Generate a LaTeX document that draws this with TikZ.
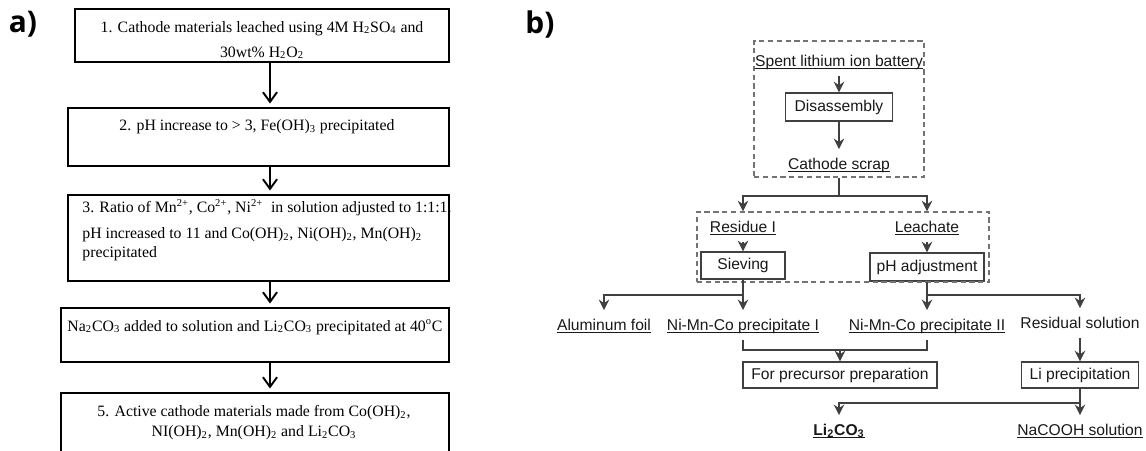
\documentclass[tikz,border=0pt]{standalone}
\usepackage{fontspec}
\setmainfont{Liberation Sans}
\newfontfamily\timesfont{Liberation Serif}
\newfontfamily\tagfont{Open Sans}
\usetikzlibrary{positioning,arrows.meta,fit}

\newcommand{\ulin}[1]{\sbox0{#1}\rlap{\rule[-1.3pt]{\wd0}{0.55pt}}\usebox0}

\tikzset{
  stepa/.style={draw=black, line width=1.1pt, inner sep=0pt},
  txta/.style={font=\timesfont\fontsize{9}{11.3}\selectfont, inner sep=0pt},
  arra/.style={-{Straight Barb[length=5.5pt,width=8pt]}, line width=1.1pt, shorten >=2pt},
  stepb/.style={draw=black!75, line width=0.8pt, inner sep=0pt, font=\fontsize{8.9}{10.5}\selectfont, text=black!90},
  txtb/.style={font=\fontsize{8.9}{10.5}\selectfont, text=black!90, inner xsep=0pt, inner ysep=3pt, text height=1.6ex, text depth=.4ex},
  arrb/.style={-{Stealth[length=6pt,width=6pt,inset=2pt]}, line width=1.2pt, draw=black!75},
  lineb/.style={line width=1.2pt, draw=black!75},
  groupb/.style={draw=black!55, dash pattern=on 3pt off 2pt, line width=0.8pt, inner sep=0pt},
  tag/.style={font=\tagfont\bfseries\fontsize{17}{19}\selectfont, inner sep=0pt}
}

\begin{document}
\begin{tikzpicture}[x=0.02cm, y=-0.02cm]
\clip (0,0) rectangle (1146,450);

% a) leaching route
\node[tag] (taga) at (23,24) {a)};
\node[stepa, fit={(75,9) (449,62)}] (a1) {};
\node[stepa, fit={(68,108) (449,166)}] (a2) {};
\node[stepa, fit={(68,195) (449,281)}] (a3) {};
\node[stepa, fit={(61,308) (449,362)}] (a4) {};
\node[stepa, fit={(61,393) (449,470)}] (a5) {};
\node[txta, align=center] (t1) at (262,40) {1. Cathode materials leached using 4M H\textsubscript{2}SO\textsubscript{4} and\\[3pt]30wt\% H\textsubscript{2}O\textsubscript{2}};
\node[txta] (t2) at (257,127) {2. pH increase to > 3, Fe(OH)\textsubscript{3} precipitated};
\node[txta, align=left, anchor=west] (t3) at (82,230) {3. Ratio of Mn\textsuperscript{2+}, Co\textsuperscript{2+}, Ni\textsuperscript{2+}\ \ in solution adjusted to 1:1:1.\\[3.4pt]pH increased to 11 and Co(OH)\textsubscript{2}, Ni(OH)\textsubscript{2}, Mn(OH)\textsubscript{2}\\[-0.5pt]precipitated};
\node[txta] (t4) at (255,327) {Na\textsubscript{2}CO\textsubscript{3} added to solution and Li\textsubscript{2}CO\textsubscript{3} precipitated at 40\textsuperscript{o}C};
\node[txta, align=center] (t5) at (254,423) {5. Active cathode materials made from Co(OH)\textsubscript{2},\\NI(OH)\textsubscript{2}, Mn(OH)\textsubscript{2} and Li\textsubscript{2}CO\textsubscript{3}};
\coordinate (ax) at (270,0);
\foreach \p/\q in {a1/a2,a2/a3,a3/a4,a4/a5}
  \draw[arra] (\p.south -| ax) -- (\q.north -| ax);

% b) recycling flow sheet
\node[tag] (tagb) at (540,25) {b)};
\node[txtb] (spent) at (839,61) {\ulin{Spent lithium ion battery}};
\node[stepb, minimum width=2.14cm, minimum height=0.56cm] (dis) at (839,107) {Disassembly};
\node[txtb] (scrap) at (839,164) {\ulin{Cathode scrap}};
\node[groupb, fit={(754,41) (924,177)}] (g1) {};
\node[txtb] (resid) at (743,227) {\ulin{Residue I}};
\node[txtb] (leach) at (927,227) {\ulin{Leachate}};
\node[stepb, minimum width=1.68cm, minimum height=0.54cm] (sieve) at (743,265.5) {Sieving};
\node[stepb, minimum width=2.28cm, minimum height=0.56cm] (phadj) at (927,267) {pH adjustment};
\node[groupb, fit={(697,212) (989,282)}] (g2) {};
\node[txtb] (alfoil) at (604,325) {\ulin{Aluminum foil}};
\node[txtb] (nmc1) at (743,325) {\ulin{Ni-Mn-Co precipitate I}};
\node[txtb] (nmc2) at (927,325) {\ulin{Ni-Mn-Co precipitate II}};
\node[txtb] (ressol) at (1080,323) {Residual solution};
\node[stepb, minimum width=3.88cm, minimum height=0.52cm] (prec) at (840,375) {For precursor preparation};
\node[stepb, minimum width=2.34cm, minimum height=0.52cm] (lip) at (1080,375) {Li precipitation};
\node[txtb] (lico) at (839,430) {\ulin{\textbf{Li\textsubscript{2}CO\textsubscript{3}}}};
\node[txtb] (nacooh) at (1080,430) {\ulin{NaCOOH solution}};

\draw[arrb] (spent) -- (dis);
\draw[arrb] (dis) -- (scrap);
\coordinate (j1) at (839,196);
\draw[lineb] (g1.south) -- (j1);
\draw[arrb] (j1) -| (g2.north -| resid);
\draw[arrb] (j1) -| (g2.north -| leach);
\draw[arrb] (resid) -- (sieve);
\draw[arrb] (leach) -- (phadj);
\coordinate (j2) at (743,295);
\draw[arrb] (sieve) -- (nmc1);
\draw[arrb] (j2) -| (alfoil);
\coordinate (j3) at (927,295);
\draw[arrb] (phadj) -- (nmc2);
\draw[arrb] (j3) -| (ressol);
\coordinate (j4) at (840,350);
\draw[lineb] (nmc1) |- (j4) -| (nmc2);
\draw[arrb] (j4) -- (prec);
\draw[arrb] (ressol) -- (lip);
\coordinate (j5) at (1080,403);
\draw[arrb] (lip) -- (nacooh);
\draw[arrb] (j5) -| (lico);
\end{tikzpicture}
\end{document}
